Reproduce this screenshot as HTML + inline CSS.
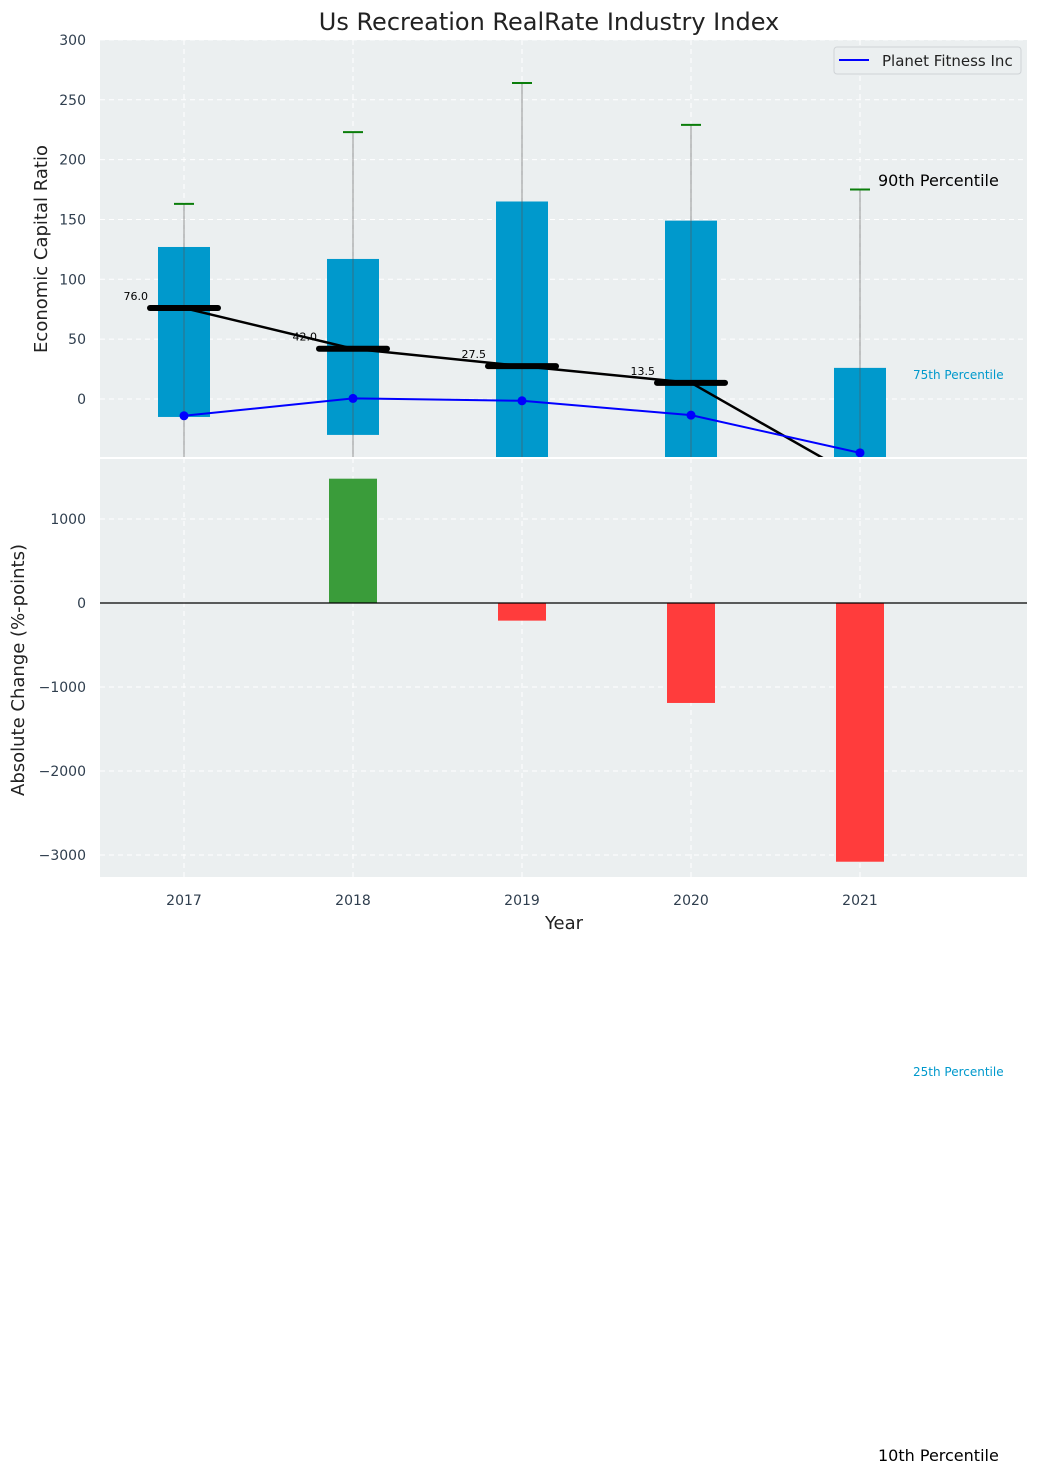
<!DOCTYPE html>
<html><head><meta charset="utf-8"><style>
body{margin:0;background:#fff;font-family:"DejaVu Sans","Liberation Sans",sans-serif;}
svg text{font-family:"DejaVu Sans","Liberation Sans",sans-serif;}
</style></head><body>
<svg id="c" width="1039" height="1473" xmlns="http://www.w3.org/2000/svg"></svg>
<script>
const years=[2017,2018,2019,2020,2021];
const q75=[127,117,165,149,26];
const q25=[-15,-30,-80,-80,-80];
const p90=[163,223,264,229,175];
const p10=[-200,-200,-200,-200,-200];
const medians=[76,42,27.5,13.5,-67];
const medianLabels=["76.0","42.0","27.5","13.5",""];
const company=[-14,0.5,-1.5,-13.5,-45];
const changes=[null,1480,-210,-1190,-3080];
const topTicks=[0,50,100,150,200,250,300];
const botTicks=[-3000,-2000,-1000,0,1000];

const NS="http://www.w3.org/2000/svg";
const svg=document.getElementById('c');
function el(t,a,p){const e=document.createElementNS(NS,t);for(const k in a)e.setAttribute(k,a[k]);(p||svg).appendChild(e);return e;}
const L=100,R=1027;
const X=v=>184+(v-2017)*169;
const Y1=v=>399-v*1.197;
const Y2=v=>603-v*0.084;
const T1=40,B1=458,T2=458,B2=877;

let t=el('text',{x:549,y:30,'text-anchor':'middle','font-size':24,fill:'#222'});t.textContent="Us Recreation RealRate Industry Index";


let g1=el('g',{});
el('defs',{}).innerHTML='<clipPath id="cp1"><rect x="100" y="40" width="927" height="418"/></clipPath><clipPath id="cp2"><rect x="100" y="458" width="927" height="419"/></clipPath>';
el('rect',{x:L,y:T1,width:R-L,height:B1-T1,fill:'#ebeff0'},g1);
topTicks.forEach(v=>{el('line',{x1:L,x2:R,y1:Y1(v),y2:Y1(v),stroke:'#fff','stroke-dasharray':'5,4'},g1);
 const tt=el('text',{x:86,y:Y1(v)+5,'text-anchor':'end','font-size':14,fill:'#2f3e4e'},g1);tt.textContent=v;
 });
years.forEach(y=>el('line',{x1:X(y),x2:X(y),y1:T1,y2:B2,stroke:'#fff','stroke-dasharray':'5,4'},g1));
const c1=el('g',{'clip-path':'url(#cp1)'},g1);
years.forEach((y,i)=>{
 const x=X(y);
 const b=el('rect',{x:x-26,y:Y1(q75[i]),width:52,height:Y1(q25[i])-Y1(q75[i]),fill:'#0099cc'},c1);
 
 el('line',{x1:x,x2:x,y1:Y1(p90[i]),y2:Y1(p10[i]),stroke:'#555','stroke-width':1,opacity:0.6},c1);
 el('line',{x1:x-10,x2:x+10,y1:Y1(p90[i]),y2:Y1(p90[i]),stroke:'#0a7d0a','stroke-width':2},c1);
 const m=el('line',{x1:x-34,x2:x+34,y1:Y1(medians[i]),y2:Y1(medians[i]),stroke:'#000','stroke-width':6,'stroke-linecap':'round'},c1);
 
 if(medianLabels[i]){const lt=el('text',{x:x-36,y:Y1(medians[i])-8,'text-anchor':'end','font-size':11,fill:'#000'},c1);lt.textContent=medianLabels[i];}
});
el('polyline',{points:years.map((y,i)=>X(y)+','+Y1(medians[i])).join(' '),fill:'none',stroke:'#000','stroke-width':2.5},c1);
const pl=el('polyline',{points:years.map((y,i)=>X(y)+','+Y1(company[i])).join(' '),fill:'none',stroke:'#0000ff','stroke-width':2},c1);

years.forEach((y,i)=>el('circle',{cx:X(y),cy:Y1(company[i]),r:4.5,fill:'#0000ff'},c1));
let yl=el('text',{transform:'translate(47,249) rotate(-90)','text-anchor':'middle','font-size':18,fill:'#222'});yl.textContent="Economic Capital Ratio";
let lg=el('g',{});
el('rect',{x:834,y:47,width:187,height:27,rx:3,fill:'#ebeff0',stroke:'#cfd3d6'},lg);
el('line',{x1:839,x2:869,y1:60,y2:60,stroke:'#0000ff','stroke-width':2},lg);
let lt=el('text',{x:882,y:66,'font-size':15,fill:'#222'},lg);lt.textContent="Planet Fitness Inc";

let g2=el('g',{});
el('rect',{x:L,y:T2,width:R-L,height:B2-T2,fill:'#ebeff0'},g2);
el('line',{x1:L,x2:R,y1:T2,y2:T2,stroke:'#fff','stroke-width':2},g2);
botTicks.forEach(v=>{el('line',{x1:L,x2:R,y1:Y2(v),y2:Y2(v),stroke:'#fff','stroke-dasharray':'5,4'},g2);
 const tt=el('text',{x:86,y:Y2(v)+5,'text-anchor':'end','font-size':14,fill:'#2f3e4e'},g2);tt.textContent=v<0?'\u2212'+(-v):v;});
years.forEach(y=>{el('line',{x1:X(y),x2:X(y),y1:T2,y2:B2,stroke:'#fff','stroke-dasharray':'5,4'},g2);
 const tt=el('text',{x:X(y),y:905,'text-anchor':'middle','font-size':14,fill:'#2f3e4e'},g2);tt.textContent=y;});
const c2=el('g',{'clip-path':'url(#cp2)'},g2);
years.forEach((y,i)=>{if(changes[i]==null)return;
 const v=changes[i];const r=el('rect',{x:X(y)-24,y:Math.min(Y2(v),Y2(0)),width:48,height:Math.abs(Y2(v)-Y2(0)),fill:v>=0?'#3a9c3a':'#ff3c3c'},c2);
 });
el('line',{x1:L,x2:R,y1:Y2(0),y2:Y2(0),stroke:'#000','stroke-width':1.2},g2);
let yl2=el('text',{transform:'translate(24,670) rotate(-90)','text-anchor':'middle','font-size':18,fill:'#222'});yl2.textContent="Absolute Change (%-points)";
let xl=el('text',{x:564,y:929,'text-anchor':'middle','font-size':18,fill:'#222'});xl.textContent="Year";

[[878,186,'90th Percentile',16,'#000'],[913,379,'75th Percentile',12,'#0099cc'],[913,1076,'25th Percentile',12,'#0099cc'],[878,1461,'10th Percentile',16,'#000']].forEach(a=>{
 const e=el('text',{x:a[0],y:a[1],'font-size':a[3],fill:a[4]});e.textContent=a[2];
 });
</script>
</body></html>
